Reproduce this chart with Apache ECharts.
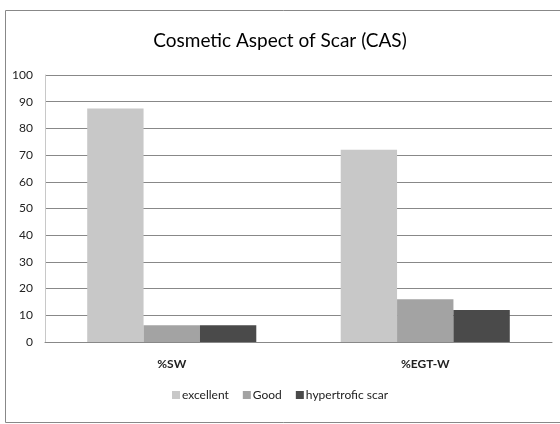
<!DOCTYPE html>
<html>
<head>
<meta charset="utf-8">
<script src="https://cdn.jsdelivr.net/npm/echarts@6/dist/echarts.min.js"></script>
<style>
  html, body { margin: 0; padding: 0; background: #fff; }
  #myChart { width: 560px; height: 424px; }
</style>
</head>
<body>
<div id="myChart"></div>
<script>
// categories and values
var categories = ["%SW", "%EGT-W"];
var excellent = [87.5, 72];
var good = [6.25, 16];
var hypertrofic = [6.25, 12];
var seriesNames = ["excellent", "Good", "hypertrofic scar"];
var colors = ["#c8c8c8", "#a3a3a3", "#4a4a4a"];

var font = "Lato, 'Open Sans', sans-serif";

var myChart = echarts.init(document.getElementById("myChart"));
myChart.setOption({
  animation: false,
  color: colors,
  title: {
    text: "Cosmetic Aspect of Scar (CAS)",
    left: "center",
    top: 26,
    textStyle: { fontFamily: font, fontSize: 19, fontWeight: "normal", color: "#000" }
  },
  graphic: [
    {
      // outer frame, right side falls outside the picture
      type: "rect",
      shape: { x: 5.5, y: 10.5, width: 570, height: 412 },
      style: { fill: null, stroke: "#888", lineWidth: 1 },
      silent: true
    }
  ],
  legend: {
    data: seriesNames,
    bottom: 18,
    left: "center",
    itemWidth: 8,
    itemHeight: 8,
    itemGap: 14,
    icon: "rect",
    textStyle: { fontFamily: font, fontSize: 12, color: "#222", padding: [0, 0, 0, -3] }
  },
  grid: { left: 45, right: 8, top: 75, bottom: 82 },
  xAxis: {
    type: "category",
    data: categories,
    axisLine: { lineStyle: { color: "#888" } },
    axisTick: { show: false },
    axisLabel: { fontFamily: font, fontSize: 12, fontWeight: "bold", color: "#222", margin: 16 }
  },
  yAxis: {
    type: "value",
    min: 0,
    max: 100,
    interval: 10,
    axisLine: { show: true, lineStyle: { color: "#c8c8c8" } },
    axisTick: { show: false },
    axisLabel: { fontFamily: font, fontSize: 12, color: "#222", margin: 12 },
    splitLine: { lineStyle: { color: "#888888", width: 1 } }
  },
  series: [
    { name: seriesNames[0], type: "bar", data: excellent, barGap: "0%", barCategoryGap: "33.3%" },
    { name: seriesNames[1], type: "bar", data: good, barGap: "0%", barCategoryGap: "33.3%" },
    { name: seriesNames[2], type: "bar", data: hypertrofic, barGap: "0%", barCategoryGap: "33.3%" }
  ]
});
</script>
</body>
</html>
